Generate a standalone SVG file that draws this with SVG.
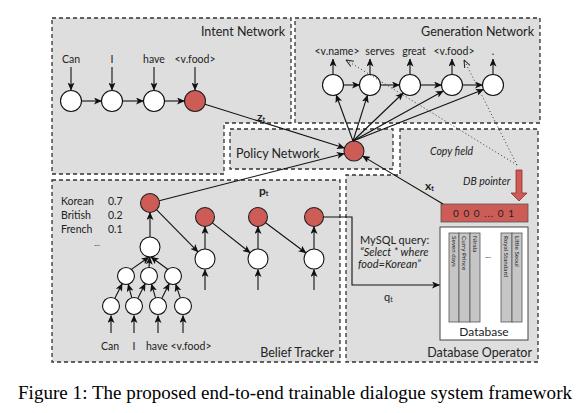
<svg xmlns="http://www.w3.org/2000/svg" width="581" height="413" viewBox="0 0 581 413">
<defs>
<marker id="ar" markerUnits="userSpaceOnUse" markerWidth="8" markerHeight="7" refX="7.5" refY="3.5" orient="auto">
<path d="M0,0 L8,3.5 L0,7 L2,3.5 Z" fill="#111"/>
</marker>
<marker id="ard" markerUnits="userSpaceOnUse" markerWidth="8" markerHeight="7" refX="7.5" refY="3.5" orient="auto">
<path d="M0,0.5 L7.5,3.5 L0,6.5" fill="none" stroke="#222" stroke-width="1"/>
</marker>
<style>
.mod{fill:#dedede;stroke:#333;stroke-width:1.3;stroke-dasharray:4 3}
.w{fill:#fff;stroke:#111;stroke-width:1.1}
.r{fill:#cd5c57;stroke:#222;stroke-width:1.1}
.a{fill:none;stroke:#111;stroke-width:1.1;marker-end:url(#ar)}
.dot{fill:none;stroke:#333;stroke-width:1;stroke-dasharray:1 2.5;marker-end:url(#ard)}
.t{font-family:Lato,"Liberation Sans",sans-serif;fill:#222}
.s{font-size:10.5px}
.lab{font-size:12.5px}
.i{font-style:italic}
.b{font-weight:bold;font-size:12px}
.col{fill:#c6c6c6;stroke:#555;stroke-width:0.8}
.ct{font-family:Lato,"Liberation Sans",sans-serif;font-size:6.3px;fill:#222}
</style>
</defs>
<rect width="581" height="413" fill="#fff"/>

<g id="intent-network">
<path class="mod" d="M52,18 H291 V123 H224 V174 H52 Z"/>
<text class="t lab" x="285" y="36" text-anchor="end">Intent Network</text>
<text class="t s" x="71" y="63" text-anchor="middle">Can</text>
<text class="t s" x="112" y="63" text-anchor="middle">I</text>
<text class="t s" x="154" y="63" text-anchor="middle">have</text>
<text class="t s" x="195" y="63" text-anchor="middle">&lt;v.food&gt;</text>
<circle class="w" cx="71" cy="101" r="10.5"/>
<circle class="w" cx="112" cy="101" r="10.5"/>
<circle class="w" cx="154" cy="101" r="10.5"/>
<circle class="r" cx="195" cy="101" r="10.5"/>
</g>

<g id="generation-network">
<rect class="mod" x="295" y="18" width="245" height="105"/>
<text class="t lab" x="534" y="36" text-anchor="end">Generation Network</text>
<text class="t s" x="337" y="55" text-anchor="middle">&lt;v.name&gt;</text>
<text class="t s" x="380" y="55" text-anchor="middle">serves</text>
<text class="t s" x="414" y="55" text-anchor="middle">great</text>
<text class="t s" x="454" y="55" text-anchor="middle">&lt;v.food&gt;</text>
<text class="t s" x="493" y="55" text-anchor="middle">.</text>
<circle class="w" cx="333" cy="85" r="10.5"/>
<circle class="w" cx="370" cy="85" r="10.5"/>
<circle class="w" cx="410" cy="85" r="10.5"/>
<circle class="w" cx="452" cy="85" r="10.5"/>
<circle class="w" cx="493" cy="85" r="10.5"/>
</g>

<g id="policy-network">
<rect class="mod" x="230" y="129" width="163" height="40"/>
<text class="t lab" x="236" y="158">Policy Network</text>
<circle class="r" cx="354" cy="151" r="10"/>
</g>

<g id="belief-tracker">
<rect class="mod" x="52" y="180" width="288" height="182"/>
<text class="t lab" x="334" y="357" text-anchor="end">Belief Tracker</text>
<text class="t s" x="61" y="205">Korean</text>
<text class="t s" x="108" y="205">0.7</text>
<text class="t s" x="61" y="219">British</text>
<text class="t s" x="108" y="219">0.2</text>
<text class="t s" x="61" y="233">French</text>
<text class="t s" x="108" y="233">0.1</text>
<text class="t" font-size="8" x="97" y="246" text-anchor="middle">...</text>
<circle class="r" cx="150" cy="203" r="9.5"/>
<circle class="w" cx="150" cy="247" r="10"/>
<circle class="w" cx="126" cy="276" r="8.5"/>
<circle class="w" cx="149" cy="276" r="8.5"/>
<circle class="w" cx="173" cy="276" r="8.5"/>
<circle class="w" cx="111" cy="306" r="8.5"/>
<circle class="w" cx="134" cy="306" r="8.5"/>
<circle class="w" cx="158" cy="306" r="8.5"/>
<circle class="w" cx="183" cy="306" r="8.5"/>
<circle class="r" cx="205" cy="217" r="9.5"/>
<circle class="r" cx="258" cy="217" r="9.5"/>
<circle class="r" cx="314" cy="217" r="9.5"/>
<circle class="w" cx="205" cy="259" r="10"/>
<circle class="w" cx="258" cy="259" r="10"/>
<circle class="w" cx="314" cy="259" r="10"/>
<text class="t s" x="110" y="350" text-anchor="middle">Can</text>
<text class="t s" x="134" y="350" text-anchor="middle">I</text>
<text class="t s" x="146" y="350">have &lt;v.food&gt;</text>
</g>

<g id="database-operator">
<path class="mod" d="M400,129 H538 V362 H346 V175 H400 Z"/>
<text class="t lab" x="532" y="357" text-anchor="end">Database Operator</text>
<text class="t i" font-size="10.5" x="430" y="155">Copy field</text>
<text class="t i" font-size="10.5" x="463" y="185">DB pointer</text>
<path d="M516,170 H522 V193 H527 L519,201 L511,193 H516 Z" fill="#cd5c57" stroke="#8a2f2b" stroke-width="0.8"/>
<rect x="441" y="204" width="87" height="18" fill="#cd5c57" stroke="#555" stroke-width="0.8"/>
<text class="t" font-size="10" x="484" y="217" text-anchor="middle" fill="#3a0a0a" letter-spacing="1">0 0 0  ...  0 1</text>
<text class="t" font-size="11" x="360" y="244">MySQL query:</text>
<text class="t i" font-size="11" x="360" y="256">“Select * where</text>
<text class="t i" font-size="11" x="358" y="268">food=Korean”</text>
</g>

<g id="database">
<rect x="440" y="227" width="88" height="113" fill="#fff" stroke="#444" stroke-width="1"/>
<rect class="col" x="449" y="233" width="10" height="89"/>
<rect class="col" x="459" y="233" width="11" height="89"/>
<rect class="col" x="470" y="233" width="10" height="89"/>
<rect class="col" x="501" y="233" width="11" height="89"/>
<rect class="col" x="512" y="233" width="10" height="89"/>
<text class="ct" transform="translate(454,236) rotate(90)" dy="0.35em">Seven days</text>
<text class="ct" transform="translate(464.5,236) rotate(90)" dy="0.35em">Curry Prince</text>
<text class="ct" transform="translate(475,236) rotate(90)" dy="0.35em">Nirala</text>
<text class="ct" transform="translate(506.5,236) rotate(90)" dy="0.35em">Royal Standard</text>
<text class="ct" transform="translate(517,236) rotate(90)" dy="0.35em">Little Seoul</text>
<text class="t" font-size="8" x="488" y="258" text-anchor="middle">...</text>
<text class="t" font-size="12" x="484" y="336" text-anchor="middle">Database</text>
</g>

<g id="connectors">
<line class="a" x1="71" y1="67" x2="71" y2="90"/>
<line class="a" x1="112" y1="67" x2="112" y2="90"/>
<line class="a" x1="154" y1="67" x2="154" y2="90"/>
<line class="a" x1="195" y1="67" x2="195" y2="90"/>
<line class="a" x1="81.5" y1="101" x2="101.5" y2="101"/>
<line class="a" x1="122.5" y1="101" x2="143.5" y2="101"/>
<line class="a" x1="164.5" y1="101" x2="184.5" y2="101"/>
<line class="a" x1="205" y1="104.2" x2="344.5" y2="148"/>
<line class="a" x1="333" y1="74.5" x2="333" y2="59"/>
<line class="a" x1="370" y1="74.5" x2="370" y2="59"/>
<line class="a" x1="410" y1="74.5" x2="410" y2="59"/>
<line class="a" x1="452" y1="74.5" x2="452" y2="59"/>
<line class="a" x1="493" y1="74.5" x2="493" y2="59"/>
<line class="a" x1="343.5" y1="85" x2="359.5" y2="85"/>
<line class="a" x1="380.5" y1="85" x2="399.5" y2="85"/>
<line class="a" x1="420.5" y1="85" x2="441.5" y2="85"/>
<line class="a" x1="462.5" y1="85" x2="482.5" y2="85"/>
<line class="a" x1="353" y1="141" x2="336.2" y2="95"/>
<line class="a" x1="353" y1="141" x2="367.5" y2="95.2"/>
<line class="a" x1="353" y1="141" x2="403.2" y2="93"/>
<line class="a" x1="353" y1="141" x2="443.3" y2="90.9"/>
<line class="a" x1="353" y1="141" x2="483.5" y2="89.5"/>
<line class="dot" x1="517" y1="165" x2="346" y2="60"/>
<line class="dot" x1="517" y1="165" x2="464" y2="60"/>
<line class="a" x1="159.2" y1="200.7" x2="344.3" y2="153.5"/>
<line class="a" x1="443" y1="204" x2="362.6" y2="156.1"/>
<line class="a" x1="150" y1="237" x2="150" y2="212.5"/>
<line class="a" x1="131.4" y1="269.4" x2="149" y2="257"/>
<line class="a" x1="149" y1="267.5" x2="149.8" y2="257"/>
<line class="a" x1="167.7" y1="269.3" x2="151" y2="257"/>
<line class="a" x1="114.8" y1="298.4" x2="122.2" y2="283.6"/>
<line class="a" x1="131.8" y1="297.8" x2="128.2" y2="284.2"/>
<line class="a" x1="137.8" y1="298.4" x2="145.2" y2="283.6"/>
<line class="a" x1="155.6" y1="297.9" x2="151.4" y2="284.1"/>
<line class="a" x1="161.8" y1="298.4" x2="169.2" y2="283.6"/>
<line class="a" x1="180.3" y1="297.9" x2="175.7" y2="284.1"/>
<line class="a" x1="111" y1="333" x2="111" y2="315.5"/>
<line class="a" x1="134" y1="333" x2="134" y2="315.5"/>
<line class="a" x1="158" y1="333" x2="158" y2="315.5"/>
<line class="a" x1="183" y1="333" x2="183" y2="315.5"/>
<line class="a" x1="205" y1="249" x2="205" y2="226.5"/>
<line class="a" x1="258" y1="249" x2="258" y2="226.5"/>
<line class="a" x1="314" y1="249" x2="314" y2="226.5"/>
<line class="a" x1="205" y1="290" x2="205" y2="269.5"/>
<line class="a" x1="258" y1="290" x2="258" y2="269.5"/>
<line class="a" x1="314" y1="290" x2="314" y2="269.5"/>
<line class="a" x1="156.7" y1="209.8" x2="198" y2="251.9"/>
<line class="a" x1="212.4" y1="222.9" x2="250.2" y2="252.8"/>
<line class="a" x1="265.6" y1="222.7" x2="306" y2="253"/>
<path class="a" d="M323.5,217 H352 V285 H439.5"/>
<text class="t b" x="257" y="121">z<tspan font-size="7" dy="1">t</tspan></text>
<text class="t b" x="259" y="195">p<tspan font-size="7" dy="1">t</tspan></text>
<text class="t b" x="425" y="190">x<tspan font-size="7" dy="1">t</tspan></text>
<text class="t" font-size="11" x="384" y="301">q<tspan font-size="7" dy="1">t</tspan></text>
</g>

<text x="18" y="399" font-family="Liberation Serif, serif" font-size="19" fill="#000" textLength="554" lengthAdjust="spacing">Figure 1: The proposed end-to-end trainable dialogue system framework</text>
</svg>
